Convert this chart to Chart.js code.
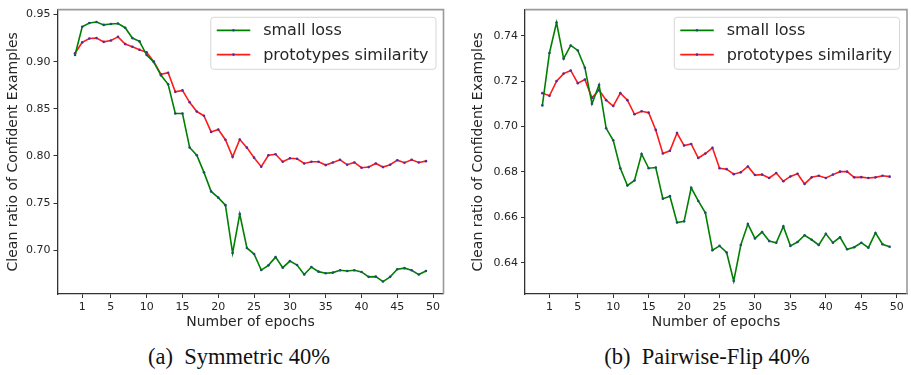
<!DOCTYPE html>
<html>
<head>
<meta charset="utf-8">
<script src="https://cdn.jsdelivr.net/npm/chart.js@4"></script>
<style>
  html, body { margin: 0; padding: 0; background: #fff; }
  body { width: 911px; height: 375px; position: relative; overflow: hidden; }
  .panel { position: absolute; top: 0; height: 335px; }
  #pA { left: 0; width: 455px; }
  #pB { left: 455px; width: 456px; }
  .cap {
    position: absolute; top: 344px; font-family: "Liberation Serif", serif;
    font-size: 22.5px; color: #111; white-space: pre; transform: translateX(-50%);
  }
</style>
</head>
<body>
<div class="panel" id="pA"><canvas id="chartA"></canvas></div>
<div class="panel" id="pB"><canvas id="chartB"></canvas></div>
<div class="cap" style="left:239px">(a)  Symmetric 40%</div>
<div class="cap" style="left:707px">(b)  Pairwise-Flip 40%</div>
<script>
// Dos paneles: ratio de ejemplos limpios por época (ruido simétrico y pairwise-flip)

const EPOCHS = [0, 1, 2, 3, 4, 5, 6, 7, 8, 9, 10, 11, 12, 13, 14, 15, 16, 17, 18, 19,
  20, 21, 22, 23, 24, 25, 26, 27, 28, 29, 30, 31, 32, 33, 34, 35, 36, 37, 38, 39,
  40, 41, 42, 43, 44, 45, 46, 47, 48, 49];
const X_TICKS = [1, 5, 10, 15, 20, 25, 30, 35, 40, 45, 50];
const LABELS = ["small loss", "prototypes similarity"];

// (a) Symmetric 40%
const SYM_SMALL = [0.907, 0.937, 0.941, 0.942, 0.939, 0.940, 0.9405, 0.936, 0.925, 0.9215,
  0.907, 0.8995, 0.8855, 0.876, 0.845, 0.845, 0.809, 0.8007, 0.7826, 0.7624,
  0.7558, 0.7478, 0.697, 0.7384, 0.7024, 0.696, 0.679, 0.684, 0.6927, 0.6815,
  0.6885, 0.6843, 0.6742, 0.6822, 0.6773, 0.6756, 0.6763, 0.6788, 0.678, 0.6788,
  0.677, 0.6718, 0.672, 0.6668, 0.6718, 0.6798, 0.681, 0.6788, 0.6742, 0.678];
const SYM_PROTO = [0.9089, 0.9204, 0.9246, 0.925, 0.921, 0.9225, 0.9263, 0.9186, 0.9158, 0.9127,
  0.9099, 0.900, 0.8865, 0.8883, 0.868, 0.8695, 0.8569, 0.8471, 0.8426, 0.8255,
  0.828, 0.8172, 0.799, 0.8175, 0.8088, 0.7982, 0.7886, 0.8007, 0.8018, 0.7938,
  0.7976, 0.797, 0.792, 0.7938, 0.7938, 0.7903, 0.7931, 0.7959, 0.7907, 0.7931,
  0.7875, 0.7882, 0.792, 0.7882, 0.7907, 0.7955, 0.7928, 0.7959, 0.7931, 0.7945];
const SYM_Y_TICKS = [0.70, 0.75, 0.80, 0.85, 0.90, 0.95];

// (b) Pairwise-Flip 40%
const PAIR_SMALL = [0.7093, 0.7324, 0.7458, 0.7299, 0.7357, 0.7335, 0.7259, 0.710, 0.7183, 0.6992,
  0.6939, 0.6816, 0.674, 0.6762, 0.6879, 0.6816, 0.6819, 0.6682, 0.6693, 0.6577,
  0.6582, 0.673, 0.6672, 0.662, 0.6455, 0.6474, 0.6445, 0.6319, 0.6478, 0.657,
  0.6507, 0.6535, 0.6495, 0.6488, 0.656, 0.6474, 0.6491, 0.6521, 0.6501, 0.6478,
  0.6527, 0.6488, 0.6512, 0.6459, 0.6468, 0.6488, 0.6466, 0.6531, 0.6481, 0.647];
const PAIR_PROTO = [0.7147, 0.7135, 0.720, 0.7233, 0.7247, 0.7191, 0.7207, 0.7126, 0.7161, 0.7116,
  0.709, 0.7147, 0.7116, 0.7054, 0.7067, 0.7061, 0.6985, 0.6881, 0.6893, 0.6971,
  0.6916, 0.6923, 0.6861, 0.6881, 0.6906, 0.6816, 0.6812, 0.679, 0.6798, 0.6824,
  0.6786, 0.6788, 0.6773, 0.6795, 0.6759, 0.678, 0.6792, 0.6747, 0.6776, 0.6783,
  0.6773, 0.6788, 0.6801, 0.6801, 0.6776, 0.6777, 0.6773, 0.6776, 0.6783, 0.6779];
const PAIR_Y_TICKS = [0.64, 0.66, 0.68, 0.70, 0.72, 0.74];

const GREEN = "#008000";
const RED = "#ff1a1a";
const FONT = "'DejaVu Sans', sans-serif";

Chart.defaults.font.family = FONT;
Chart.defaults.color = "#262626";

// Leyenda tipo matplotlib dentro del área del gráfico (arriba a la derecha)
const boxLegend = {
  id: "boxLegend",
  afterDatasetsDraw(chart) {
    const { ctx, chartArea: a } = chart;
    const sets = chart.data.datasets;
    ctx.save();
    ctx.font = "16px " + FONT;
    const tw = Math.max(...sets.map(d => ctx.measureText(d.label).width));
    const w = 52 + tw + 8, h = 52;
    const x = a.right - 7.5 - w, y = a.top + 7.7;
    ctx.beginPath();
    ctx.roundRect(x, y, w, h, 3);
    ctx.fillStyle = "rgba(255,255,255,0.85)";
    ctx.fill();
    ctx.strokeStyle = "#d6d6d6";
    ctx.lineWidth = 1;
    ctx.stroke();
    sets.forEach((d, i) => {
      const cy = y + 13 + i * 24.3;
      ctx.beginPath();
      ctx.moveTo(x + 6, cy);
      ctx.lineTo(x + 39.5, cy);
      ctx.strokeStyle = d.borderColor;
      ctx.lineWidth = 1.8;
      ctx.stroke();
      ctx.beginPath();
      ctx.arc(x + 22.7, cy, 1.3, 0, Math.PI * 2);
      ctx.fillStyle = d.pointBackgroundColor;
      ctx.fill();
      ctx.fillStyle = "#262626";
      ctx.textBaseline = "middle";
      ctx.fillText(d.label, x + 52.4, cy + 1);
    });
    ctx.restore();
  },
};

// Bordes superior y derecho en gris
const frame = {
  id: "frame",
  afterDraw(chart) {
    const { ctx, chartArea: a } = chart;
    ctx.save();
    ctx.strokeStyle = "#9a9a9a";
    ctx.lineWidth = 1.6;
    ctx.beginPath();
    ctx.moveTo(a.left, a.top);
    ctx.lineTo(a.right, a.top);
    ctx.lineTo(a.right, a.bottom);
    ctx.stroke();
    ctx.restore();
  },
};

function serie(label, ys, color, dot) {
  return {
    label,
    data: EPOCHS.map((e, i) => ({ x: e, y: ys[i] })),
    borderColor: color,
    borderWidth: 1.6,
    pointRadius: 1.3,
    pointBorderWidth: 0,
    pointBackgroundColor: dot,
    tension: 0,
  };
}

function crearPanel(id, small, proto, yTicks, yMin, yMax, yWidth, titlePad, padRight) {
  new Chart(document.getElementById(id), {
    type: "line",
    data: {
      datasets: [
        serie(LABELS[0], small, GREEN, "#1d4f6e"),
        serie(LABELS[1], proto, RED, "#5a2a9a"),
      ],
    },
    options: {
      responsive: true,
      maintainAspectRatio: false,
      animation: false,
      layout: { padding: { left: 0, right: padRight, top: 5, bottom: 0 } },
      plugins: { legend: { display: false }, tooltip: { enabled: false } },
      scales: {
        x: {
          type: "linear",
          min: -2.45, max: 51.45,
          afterBuildTicks: s => { s.ticks = X_TICKS.map(v => ({ value: v })); },
          afterFit: s => { s.height = 41; },
          ticks: { font: { size: 11 }, color: "#262626", padding: 2.5, autoSkip: false, maxRotation: 0 },
          grid: { drawOnChartArea: false, drawTicks: true, tickLength: 4, tickColor: "#333" },
          border: { color: "#333", width: 1.3 },
          title: { display: true, text: "Number of epochs", font: { size: 14 }, color: "#262626",
                   padding: { top: 0, bottom: 4 } },
        },
        y: {
          min: yMin, max: yMax,
          afterBuildTicks: s => { s.ticks = yTicks.map(v => ({ value: v })); },
          afterFit: s => { s.width = yWidth; },
          ticks: { font: { size: 11 }, color: "#262626", padding: 3,
                   callback: v => v.toFixed(2) },
          grid: { drawOnChartArea: false, drawTicks: true, tickLength: 4, tickColor: "#333" },
          border: { color: "#333", width: 1.3 },
          title: { display: true, text: "Clean ratio of Confident Examples", font: { size: 14 },
                   color: "#262626", padding: { top: titlePad, bottom: 0 } },
        },
      },
    },
    plugins: [frame, boxLegend],
  });
}

crearPanel("chartA", SYM_SMALL, SYM_PROTO, SYM_Y_TICKS, 0.6536, 0.9552, 57.5, 4.6, 11.5);
crearPanel("chartB", PAIR_SMALL, PAIR_PROTO, PAIR_Y_TICKS, 0.6262, 0.7515, 70, 14.6, 1);
</script>
</body>
</html>
